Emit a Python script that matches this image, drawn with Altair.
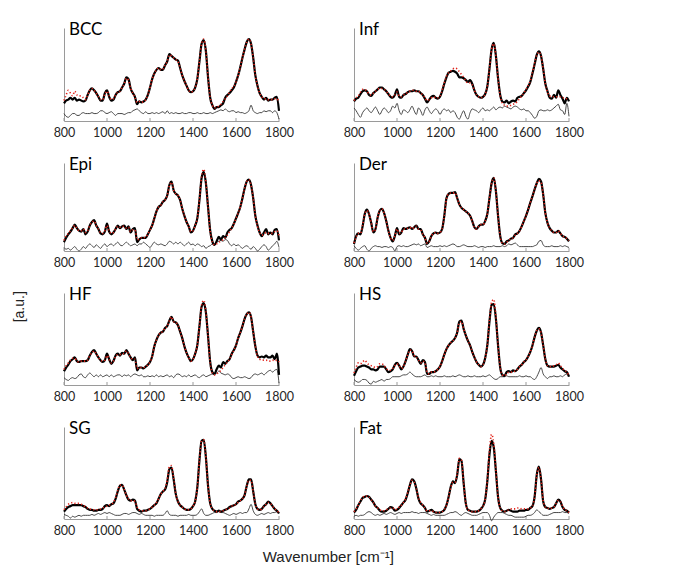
import altair as alt
import pandas as pd

# Wavenumber grid (cm^-1), sampled every 10
WN = list(range(800, 1801, 10))
TICKS = [800, 1000, 1200, 1400, 1600, 1800]

# ---------------- BCC ----------------
bcc_spec = [19,22,23,25,23,25,22,23,22,21, 22,28,33,35,33,30,26,22,22,30,
            33,26,22,23,28,31,32,36,40,47, 45,35,30,26,18,21,20,21,23,28,
            36,45,51,55,57,55,55,60,64,72, 70,68,66,65,57,49,43,38,33,31,
            32,36,45,64,83,87,75,47,25,17, 13,15,15,17,19,25,28,30,33,36,
            42,49,58,68,77,85,88,83,68,49, 38,30,26,23,25,22,23,23,25,26, 11]
bcc_fit = [22,28,33,30,27,32,28,27,27,25, 23,28,33,35,33,30,26,23,23,29,
           32,27,23,24,28,31,32,36,40,46, 44,35,30,25,20,21,20,21,23,28,
           36,45,51,55,57,55,56,60,64,71, 70,68,66,64,57,49,43,38,33,31,
           32,36,45,64,83,88,75,47,25,17, 14,15,16,18,21,24,27,31,35,37,
           42,49,58,68,77,85,88,83,68,49, 38,30,26,24,24,23,23,23,24,24, 20]
bcc_res = [8,5,4,6,8,8,6,6,8,9, 8,8,8,9,8,8,9,11,11,9,
           8,9,10,8,6,8,8,8,7,8, 9,9,11,12,13,11,9,8,10,8,
           8,9,8,9,8,9,10,8,11,8, 9,8,9,8,8,9,8,8,9,9,
           8,8,9,8,8,9,8,8,9,8, 9,10,11,12,11,13,11,10,11,11,
           9,10,9,9,8,9,11,17,11,9, 8,9,9,11,10,11,11,9,11,9, 2]

# ---------------- Inf ----------------
inf_spec = [21,24,25,29,32,33,32,28,27,30, 32,34,36,36,34,32,29,26,25,28,
            34,26,25,28,29,31,32,32,33,32, 32,30,28,24,20,23,26,27,25,24,
            26,32,40,47,52,53,54,53,51,47, 47,46,44,42,44,40,33,28,26,25,
            26,29,37,56,77,84,70,46,28,21, 20,22,19,21,22,21,25,26,27,30,
            33,37,42,51,61,71,75,70,56,40, 32,25,24,28,25,33,28,24,19,25, 21]
inf_fit = [22,25,27,31,34,34,32,29,28,30, 32,34,35,35,34,32,29,27,26,28,
           31,27,26,28,29,31,32,33,33,32, 32,30,28,25,22,23,25,26,25,25,
           27,33,41,48,52,54,56,57,56,53, 50,47,43,41,41,39,33,28,26,25,
           26,29,37,56,77,83,70,46,27,19, 17,16,16,17,18,19,21,24,27,30,
           34,38,43,52,62,71,74,70,56,40, 31,27,26,26,26,26,26,25,25,24, 24]
inf_res = [14,11,7,4,9,12,14,11,9,12, 15,11,7,11,14,12,9,11,16,14,
           19,11,7,12,11,9,12,16,11,7, 14,11,6,12,15,11,8,11,13,11,
           7,11,13,11,12,9,11,9,4,2, 7,11,5,2,9,13,12,11,9,12,
           14,11,12,11,13,15,12,14,15,14, 16,15,14,13,15,16,15,13,12,13,
           11,11,9,6,3,5,11,12,11,11, 12,11,12,14,16,18,12,11,7,19, 5]

# ---------------- Epi ----------------
epi_spec = [10,15,19,22,26,30,26,23,22,25, 19,22,29,33,35,29,25,20,19,22,
            31,22,19,21,25,29,26,28,29,25, 28,21,25,26,10,13,15,15,15,19,
            24,29,37,45,50,52,56,58,63,75, 79,69,65,63,58,48,40,33,28,21,
            23,29,37,58,83,90,77,50,23,11, 7,11,16,13,17,15,21,24,26,31,
            37,43,50,60,71,79,81,75,60,40, 29,21,17,21,25,19,21,19,24,25, 12]
epi_fit = [12,17,20,23,26,29,26,23,23,25, 21,23,29,33,34,29,25,21,20,23,
           29,23,20,21,25,28,27,28,28,26, 27,22,24,24,13,13,15,15,16,19,
           24,29,37,45,50,52,56,58,63,74, 78,69,65,63,58,48,40,33,28,22,
           23,29,37,58,85,93,78,50,22,10, 7,8,10,11,13,15,18,22,26,31,
           37,43,50,60,71,79,81,75,60,40, 28,21,18,19,21,20,20,20,22,23, 18]
epi_res = [4,2,3,1,3,5,2,0,2,5, 3,6,8,6,4,7,5,3,6,8,
           5,7,8,6,8,10,7,6,8,10, 8,6,7,8,6,8,8,10,8,6,
           4,7,10,8,7,8,7,6,8,11, 10,8,10,8,10,8,6,8,10,7,
           8,6,8,7,5,6,3,5,6,8, 7,10,11,12,11,13,12,8,6,8,
           6,7,5,3,5,6,4,2,5,3, 0,2,5,7,5,1,3,6,8,11, 4]

# ---------------- Der ----------------
der_spec = [8,17,20,19,28,42,47,42,32,21, 25,38,46,48,43,34,23,15,11,17,
            26,19,21,26,25,26,27,25,27,29, 25,25,19,15,8,11,17,20,21,20,
            21,25,40,60,65,66,66,67,60,53, 49,47,45,43,40,34,27,25,28,30,
            30,34,42,60,77,83,68,40,17,9, 8,11,12,14,15,19,20,23,28,34,
            40,47,55,62,70,77,82,79,64,43, 32,26,23,21,21,23,20,17,16,14, 11]
der_fit = [9,16,20,20,29,42,46,42,32,22, 25,38,46,48,43,34,23,15,12,17,
           25,20,21,25,25,26,27,25,27,28, 25,24,19,15,9,11,17,20,21,20,
           21,25,40,59,65,66,66,66,60,53, 49,47,45,43,40,34,27,25,28,30,
           30,34,42,60,77,83,68,40,17,9, 8,10,12,14,15,18,20,23,28,34,
           40,47,55,62,70,77,80,78,64,43, 32,26,23,21,21,23,20,17,16,14, 12]
der_res = [6,3,1,3,5,6,2,0,3,5, 6,5,5,4,5,5,4,5,4,0,
           5,6,5,6,5,5,6,7,8,7, 8,6,7,8,4,5,6,5,5,5,
           6,5,6,5,6,7,8,7,5,5, 6,7,6,5,5,5,6,5,4,5,
           5,4,5,5,5,6,5,5,5,6, 5,6,8,7,8,9,7,5,5,5,
           5,5,5,5,6,7,11,12,7,5, 5,5,6,5,5,5,6,5,6,5, 4]

# ---------------- HF ----------------
hf_spec = [15,19,22,26,28,30,26,25,26,26, 26,27,32,36,38,34,30,27,25,27,
           34,28,23,26,32,34,32,35,34,38, 34,30,27,30,16,19,19,18,20,22,
           25,31,42,49,54,57,58,62,64,70, 74,69,68,65,58,51,42,35,30,26,
           28,34,43,64,85,89,79,53,25,14, 12,17,21,19,25,23,26,28,34,38,
           43,51,57,64,72,77,79,74,58,42, 32,30,31,30,32,30,30,32,28,34, 11]
hf_fit = [17,21,24,27,29,29,26,25,26,26, 26,27,32,35,37,34,30,27,26,27,
          32,28,24,26,31,33,33,34,34,37, 34,30,28,28,18,19,19,19,20,22,
          25,31,42,49,54,57,58,62,64,70, 74,69,68,65,58,51,42,35,30,26,
          28,34,43,64,87,92,80,53,24,13, 11,12,14,16,19,22,25,28,33,38,
          43,51,57,64,72,77,79,74,58,42, 31,28,27,27,27,26,26,27,26,27, 25]
hf_res = [8,6,5,7,8,7,8,11,12,9, 8,11,13,11,9,11,9,11,9,10,
          11,9,11,9,10,11,11,9,11,10, 11,9,11,12,11,10,11,9,9,10,
          9,10,9,11,9,10,9,10,11,9, 10,8,11,12,11,9,10,9,11,9,
          10,11,9,8,10,11,9,10,11,12, 11,13,15,13,12,11,12,11,8,7,
          8,9,8,8,9,8,7,8,11,12, 11,12,13,11,13,15,16,14,16,17, 2]

# ---------------- HS ----------------
hs_spec = [10,15,19,20,21,21,20,19,17,17, 16,17,20,20,20,17,14,15,17,22,
           24,21,17,20,26,33,39,37,31,31, 27,23,27,25,12,12,14,14,15,17,
           20,26,33,39,43,46,48,51,57,69, 70,61,54,48,43,36,30,25,22,20,
           22,29,43,69,87,88,72,43,19,11, 10,14,15,14,16,15,17,20,22,25,
           27,31,36,43,52,59,62,57,43,28, 21,20,20,20,21,22,19,17,15,14, 9]
hs_fit = [13,19,24,23,25,27,24,22,21,20, 19,20,23,23,21,18,16,16,18,21,
          23,21,18,20,26,33,38,37,32,30, 27,24,26,24,14,12,14,14,15,17,
          20,26,33,39,43,46,48,51,57,68, 69,61,54,48,43,36,30,25,22,20,
          22,29,43,70,90,93,74,43,19,11, 10,12,14,14,15,15,17,20,22,25,
          27,31,36,43,52,59,61,57,43,28, 21,20,20,21,22,24,21,18,16,14, 10]
hs_res = [6,4,3,4,6,6,5,2,1,4, 3,4,5,6,4,6,6,7,9,9,
          9,9,10,11,11,12,14,12,10,9, 9,9,10,11,9,9,10,9,10,9,
          9,9,10,9,9,9,10,9,10,11, 10,9,9,10,9,9,10,9,9,9,
          10,9,10,11,9,7,6,7,9,9, 9,10,9,9,9,9,9,10,9,9,
          10,9,9,7,6,9,14,19,12,9, 7,9,9,10,9,9,10,9,11,12, 9]

# ---------------- SG ----------------
sg_spec = [8,11,13,14,15,15,15,15,15,14, 13,11,10,10,9,9,10,10,11,14,
           15,14,16,17,22,30,36,37,32,26, 21,20,21,20,11,9,8,9,9,10,
           11,13,15,17,22,27,30,32,40,54, 56,43,27,19,15,13,11,10,10,11,
           14,19,34,64,85,86,67,36,17,11, 9,8,9,8,9,10,11,13,14,15,
           16,19,20,22,26,36,43,43,30,16, 11,10,11,14,16,19,17,14,11,9, 6]
sg_fit = [10,13,16,17,18,17,17,17,16,15, 13,12,11,10,10,10,10,11,12,13,
          14,15,16,18,23,31,37,37,32,26, 22,20,20,19,13,10,9,9,9,10,
          11,13,15,18,22,27,30,33,42,57, 58,44,27,19,15,13,11,10,10,11,
          14,19,34,64,85,86,67,36,17,11, 9,8,8,8,9,10,11,12,14,15,
          16,18,20,22,26,36,42,42,30,16, 11,10,11,14,16,18,17,14,11,9, 7]
sg_res = [5,4,3,1,3,2,3,4,3,4, 4,4,4,5,4,5,6,5,6,7,
          6,7,6,5,4,4,4,5,6,6, 5,6,7,7,6,5,6,5,4,4,
          4,4,3,4,4,4,4,6,9,5, 4,4,4,3,4,4,4,4,5,4,
          4,4,5,8,11,6,4,4,5,6, 7,7,8,7,7,6,5,4,5,6,
          5,6,7,6,7,7,11,16,9,5, 4,5,6,5,6,7,6,7,7,8, 6]

# ---------------- Fat ----------------
fat_spec = [7,10,15,19,23,24,25,24,21,18, 14,12,9,8,8,9,11,13,12,9,
            10,12,15,18,21,28,37,43,41,33, 22,17,15,12,8,9,10,8,7,7,
            7,8,10,15,24,35,41,39,48,65, 63,39,17,10,9,8,8,8,9,11,
            14,21,41,70,85,78,52,24,12,9, 8,9,10,9,8,8,8,9,9,9,
            10,10,12,14,24,48,57,43,19,13, 12,11,12,13,17,21,19,13,10,9, 7]
fat_fit = [8,11,15,20,23,25,25,24,21,18, 14,12,10,9,9,10,11,12,12,10,
           11,13,15,18,22,29,37,42,40,33, 23,18,15,12,9,9,9,8,7,7,
           7,8,10,15,24,34,40,40,49,66, 64,39,17,10,9,8,8,8,9,11,
           14,21,42,74,92,82,53,24,12,9, 8,9,10,11,11,11,12,12,11,11,
           11,11,12,14,24,47,56,43,20,13, 12,11,12,13,17,20,19,14,10,9, 7]
fat_res = [3,4,3,4,4,5,7,8,7,5, 4,5,4,5,6,5,6,7,6,5,
           6,7,6,7,7,7,7,8,7,7, 6,7,7,7,6,5,4,5,4,4,
           4,4,4,5,6,7,7,8,7,5, 4,6,7,6,5,4,4,4,5,6,
           7,7,7,4,-2,2,5,7,7,7, 6,5,4,4,3,2,2,2,2,2,
           3,4,4,5,7,10,8,6,4,4, 4,5,6,7,7,7,7,8,7,7, 6]

PANELS = [
    ("BCC", bcc_spec, bcc_fit, bcc_res),
    ("Inf", inf_spec, inf_fit, inf_res),
    ("Epi", epi_spec, epi_fit, epi_res),
    ("Der", der_spec, der_fit, der_res),
    ("HF", hf_spec, hf_fit, hf_res),
    ("HS", hs_spec, hs_fit, hs_res),
    ("SG", sg_spec, sg_fit, sg_res),
    ("Fat", fat_spec, fat_fit, fat_res),
]

W = 215
ROW_H = [93, 88, 92, 92]
AX_COL = "#9a9a9a"


def x_axis():
    return alt.Axis(values=TICKS, format="d", title=None, ticks=False, grid=False,
                    labelFlush=False, labelOverlap=False, labelFont="Lato",
                    labelFontSize=12.5, labelColor="#262626", labelPadding=5,
                    domainColor=AX_COL, domainWidth=1)


def y_axis():
    return alt.Axis(labels=False, ticks=False, title=None, grid=False,
                    domainColor=AX_COL, domainWidth=1)


XS = alt.Scale(domain=[800, 1800], nice=False, zero=False)
YS = alt.Scale(domain=[0, 100], nice=False, zero=False)


def panel(name, spec, fit, res, h):
    df = pd.DataFrame({"wn": WN, "spec": spec, "fit": fit, "res": res})
    base = alt.Chart(df).encode(x=alt.X("wn:Q", scale=XS, axis=x_axis()))
    res_l = base.mark_line(color="#333333", strokeWidth=0.9,
                           interpolate="monotone", clip=False).encode(
        y=alt.Y("res:Q", scale=YS, axis=y_axis()))
    spec_l = base.mark_line(color="#000000", strokeWidth=2.2,
                            interpolate="monotone").encode(
        y=alt.Y("spec:Q", scale=YS, axis=y_axis()))
    fit_l = base.mark_line(color="#e2231a", strokeWidth=1.6,
                           strokeDash=[1.2, 2.2],
                           interpolate="monotone").encode(
        y=alt.Y("fit:Q", scale=YS, axis=y_axis()))
    tick_df = pd.DataFrame({"wn": TICKS})
    ticks = alt.Chart(tick_df).mark_rule(color=AX_COL, strokeWidth=1).encode(
        x=alt.X("wn:Q", scale=XS, axis=x_axis()),
        y=alt.value(h - 3), y2=alt.value(h))
    lab = alt.Chart(pd.DataFrame({"lab": [name]})).mark_text(
        align="left", baseline="top", font="Lato", fontSize=17,
        color="#000000").encode(text="lab:N", x=alt.value(5), y=alt.value(-6))
    return alt.layer(ticks, res_l, spec_l, fit_l, lab).properties(width=W, height=h)


panels = [panel(*p, ROW_H[i // 2]) for i, p in enumerate(PANELS)]

grid = alt.concat(*panels, columns=2, bounds="flush", align="each",
                  spacing=alt.RowColnumber(row=42, column=75)).properties(
    title=alt.TitleParams("Wavenumber [cm⁻¹]", orient="bottom", anchor="middle",
                          font="Liberation Sans", fontSize=15, fontWeight="normal",
                          color="#222222", offset=13, dx=10))

chart = alt.hconcat(grid).properties(
    title=alt.TitleParams("[a.u.]", orient="left", anchor="middle",
                          font="Liberation Sans", fontSize=14, fontWeight="normal",
                          color="#222222", offset=26, dx=-14),
    padding={"left": 5, "top": 13, "right": 5, "bottom": 5},
    background="white",
).configure_view(stroke="transparent", strokeWidth=0)

chart.save("out.html", embed_options={"renderer": "svg", "actions": False})
